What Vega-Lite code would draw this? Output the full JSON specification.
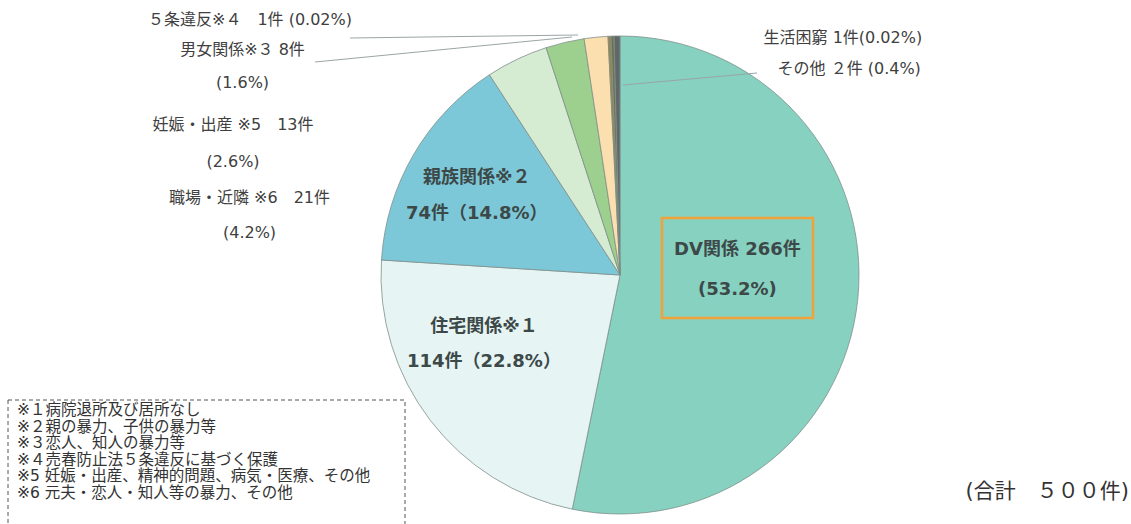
{
  "$schema": "https://vega.github.io/schema/vega-lite/v6.json",
  "width": 958,
  "height": 478,
  "autosize": {"type": "none"},
  "padding": {"left": 141, "top": 36, "right": 32, "bottom": 10},
  "background": "white",
  "config": {"view": {"stroke": null}, "font": "DejaVu Sans, Noto Sans CJK JP"},
  "data": {"values": [
    {"cat": "DV関係", "count": 266, "ord": 1, "label": "DV関係 266件\n(53.2%)"},
    {"cat": "住宅関係", "count": 114, "ord": 2, "label": "住宅関係※１\n114件（22.8%）"},
    {"cat": "親族関係", "count": 74, "ord": 3, "label": "親族関係※２\n74件（14.8%）"},
    {"cat": "職場・近隣", "count": 21, "ord": 4, "label": "職場・近隣 ※6　21件\n(4.2%)"},
    {"cat": "妊娠・出産", "count": 13, "ord": 5, "label": "妊娠・出産 ※5　13件\n(2.6%)"},
    {"cat": "男女関係", "count": 8, "ord": 6, "label": "男女関係※３  8件\n(1.6%)"},
    {"cat": "5条違反", "count": 1, "ord": 7, "label": "５条違反※４　1件 (0.02%)"},
    {"cat": "生活困窮", "count": 1, "ord": 8, "label": "生活困窮 1件(0.02%)"},
    {"cat": "その他", "count": 2, "ord": 9, "label": "その他 ２件 (0.4%)"}
  ]},
  "layer": [
    {
      "mark": {"type": "arc", "stroke": "#7f8f8a", "strokeWidth": 0.8},
      "encoding": {
        "theta": {"field": "count", "type": "quantitative", "stack": true},
        "order": {"field": "ord", "type": "quantitative"},
        "color": {
          "field": "cat", "type": "nominal", "legend": null,
          "scale": {
            "domain": ["DV関係", "住宅関係", "親族関係", "職場・近隣", "妊娠・出産", "男女関係", "5条違反", "生活困窮", "その他"],
            "range": ["#87d1c1", "#e6f5f4", "#7cc8d8", "#d6ecd2", "#9dd08e", "#fcdfae", "#94864e", "#707050", "#5f6868"]
          }
        }
      }
    },
    {
      "data": {"values": [{"k": "box"}]},
      "mark": {"type": "point", "shape": "M42,-57H193V43H42Z", "size": 4, "filled": false, "stroke": "#f2a23a", "strokeWidth": 2.5, "opacity": 1},
      "encoding": {}
    },
    {
      "data": {"values": [{"k": "leaders"}]},
      "mark": {"type": "point", "shape": "M-270,-237L-42,-240M-305,-213L-48,-238M3,-190L137,-202", "size": 4, "filled": false, "stroke": "#9aa5a5", "strokeWidth": 1, "opacity": 1},
      "encoding": {}
    },
    {
      "data": {"values": [{"k": "noteframe"}]},
      "mark": {"type": "point", "shape": "M-612,125H-215V255H-612Z", "size": 4, "filled": false, "stroke": "#555555", "strokeWidth": 1, "strokeDash": [4, 3], "opacity": 1},
      "encoding": {}
    },
    {
      "mark": {"type": "text", "radius": 118, "dx": 0, "dy": -37, "fontSize": 18, "fontWeight": "bold", "lineBreak": "\n", "lineHeight": 40, "align": "center", "baseline": "middle", "color": "#3d4848"},
      "encoding": {
        "theta": {"field": "count", "type": "quantitative", "stack": true},
        "order": {"field": "ord", "type": "quantitative"},
        "text": {"condition": {"test": "datum.cat === 'DV関係'", "field": "label", "type": "nominal"}, "value": ""}
      }
    },
    {
      "mark": {"type": "text", "radius": 150, "dx": -17, "dy": -39.2, "fontSize": 18, "fontWeight": "bold", "lineBreak": "\n", "lineHeight": 35, "align": "center", "baseline": "middle", "color": "#3d4848"},
      "encoding": {
        "theta": {"field": "count", "type": "quantitative", "stack": true},
        "order": {"field": "ord", "type": "quantitative"},
        "text": {"condition": {"test": "datum.cat === '住宅関係'", "field": "label", "type": "nominal"}, "value": ""}
      }
    },
    {
      "mark": {"type": "text", "radius": 160, "dx": -5, "dy": -16.4, "fontSize": 18, "fontWeight": "bold", "lineBreak": "\n", "lineHeight": 36, "align": "center", "baseline": "middle", "color": "#3d4848"},
      "encoding": {
        "theta": {"field": "count", "type": "quantitative", "stack": true},
        "order": {"field": "ord", "type": "quantitative"},
        "text": {"condition": {"test": "datum.cat === '親族関係'", "field": "label", "type": "nominal"}, "value": ""}
      }
    },
    {
      "mark": {"type": "text", "radius": 250, "dx": -262.6, "dy": 148.6, "fontSize": 16, "lineBreak": "\n", "lineHeight": 35, "align": "center", "baseline": "middle", "color": "#404040"},
      "encoding": {
        "theta": {"field": "count", "type": "quantitative", "stack": true},
        "order": {"field": "ord", "type": "quantitative"},
        "text": {"condition": {"test": "datum.cat === '職場・近隣'", "field": "label", "type": "nominal"}, "value": ""}
      }
    },
    {
      "mark": {"type": "text", "radius": 250, "dx": -329.4, "dy": 93.3, "fontSize": 16, "lineBreak": "\n", "lineHeight": 37, "align": "center", "baseline": "middle", "color": "#404040"},
      "encoding": {
        "theta": {"field": "count", "type": "quantitative", "stack": true},
        "order": {"field": "ord", "type": "quantitative"},
        "text": {"condition": {"test": "datum.cat === '妊娠・出産'", "field": "label", "type": "nominal"}, "value": ""}
      }
    },
    {
      "mark": {"type": "text", "radius": 250, "dx": -352.4, "dy": 23.7, "fontSize": 16, "lineBreak": "\n", "lineHeight": 33, "align": "center", "baseline": "middle", "color": "#404040"},
      "encoding": {
        "theta": {"field": "count", "type": "quantitative", "stack": true},
        "order": {"field": "ord", "type": "quantitative"},
        "text": {"condition": {"test": "datum.cat === '男女関係'", "field": "label", "type": "nominal"}, "value": ""}
      }
    },
    {
      "mark": {"type": "text", "radius": 250, "dx": -359, "dy": -5, "fontSize": 16, "align": "center", "baseline": "middle", "color": "#404040"},
      "encoding": {
        "theta": {"field": "count", "type": "quantitative", "stack": true},
        "order": {"field": "ord", "type": "quantitative"},
        "text": {"condition": {"test": "datum.cat === '5条違反'", "field": "label", "type": "nominal"}, "value": ""}
      }
    },
    {
      "mark": {"type": "text", "radius": 250, "dx": 310, "dy": 13, "fontSize": 16, "align": "right", "baseline": "middle", "color": "#404040"},
      "encoding": {
        "theta": {"field": "count", "type": "quantitative", "stack": true},
        "order": {"field": "ord", "type": "quantitative"},
        "text": {"condition": {"test": "datum.cat === '生活困窮'", "field": "label", "type": "nominal"}, "value": ""}
      }
    },
    {
      "mark": {"type": "text", "radius": 250, "dx": 304, "dy": 44, "fontSize": 16, "align": "right", "baseline": "middle", "color": "#404040"},
      "encoding": {
        "theta": {"field": "count", "type": "quantitative", "stack": true},
        "order": {"field": "ord", "type": "quantitative"},
        "text": {"condition": {"test": "datum.cat === 'その他'", "field": "label", "type": "nominal"}, "value": ""}
      }
    },
    {
      "data": {"values": [{"note": "※１病院退所及び居所なし\n※２親の暴力、子供の暴力等\n※３恋人、知人の暴力等\n※４売春防止法５条違反に基づく保護\n※5 妊娠・出産、精神的問題、病気・医療、その他\n※6 元夫・恋人・知人等の暴力、その他"}]},
      "mark": {"type": "text", "dx": -603, "dy": 135, "fontSize": 15.5, "lineBreak": "\n", "lineHeight": 16.6, "align": "left", "baseline": "middle", "color": "#333333"},
      "encoding": {"text": {"field": "note", "type": "nominal"}}
    },
    {
      "data": {"values": [{"t": "(合計　５００件)"}]},
      "mark": {"type": "text", "dx": 509, "dy": 217, "fontSize": 21, "align": "right", "baseline": "middle", "color": "#333333"},
      "encoding": {"text": {"field": "t", "type": "nominal"}}
    }
  ]
}
